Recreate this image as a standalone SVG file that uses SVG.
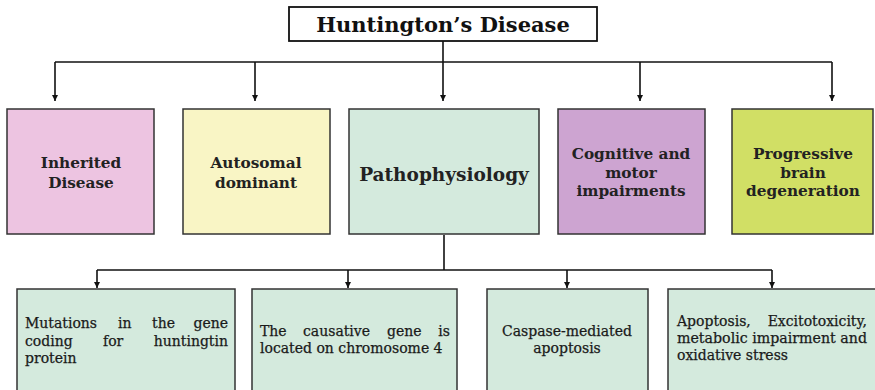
<svg xmlns="http://www.w3.org/2000/svg" width="875" height="390" viewBox="0 0 875 390">
  <style>
    .box { stroke: #333; stroke-width: 1.5; }
    .title { font-family: "DejaVu Serif", "Liberation Serif", serif; font-weight: bold; font-size: 21px; fill: #111; text-anchor: middle; }
    .head { font-family: "DejaVu Serif", "Liberation Serif", serif; font-weight: bold; font-size: 15.3px; fill: #222; text-anchor: middle; }
    .big { font-family: "DejaVu Serif", "Liberation Serif", serif; font-weight: bold; font-size: 18.5px; fill: #222; text-anchor: middle; }
    .body { font-family: "DejaVu Serif", "Liberation Serif", serif; font-size: 14px; fill: #1a1a1a; stroke: #1a1a1a; stroke-width: 0.25; }
    .mid { text-anchor: middle; }
    .end { text-anchor: end; }
    .wire { fill: none; stroke: #111; stroke-width: 1.6; }
  </style>
  <defs>
    <marker id="arrow" viewBox="0 0 10 10" refX="10" refY="5" markerWidth="6" markerHeight="6" markerUnits="userSpaceOnUse" orient="auto">
      <path d="M0,0 L10,5 L0,10 Z" fill="#111"/>
    </marker>
  </defs>

  <rect width="875" height="390" fill="#fff"/>

  <!-- connectors -->
  <g id="connectors">
    <line class="wire" x1="443" y1="41" x2="443" y2="62"/>
    <line class="wire" x1="55" y1="62" x2="832" y2="62"/>
    <line class="wire" x1="55" y1="62" x2="55" y2="101" marker-end="url(#arrow)"/>
    <line class="wire" x1="255" y1="62" x2="255" y2="101" marker-end="url(#arrow)"/>
    <line class="wire" x1="443" y1="62" x2="443" y2="101" marker-end="url(#arrow)"/>
    <line class="wire" x1="640" y1="62" x2="640" y2="101" marker-end="url(#arrow)"/>
    <line class="wire" x1="832" y1="62" x2="832" y2="101" marker-end="url(#arrow)"/>

    <line class="wire" x1="444" y1="235" x2="444" y2="270"/>
    <line class="wire" x1="97" y1="270" x2="772" y2="270"/>
    <line class="wire" x1="97" y1="270" x2="97" y2="288" marker-end="url(#arrow)"/>
    <line class="wire" x1="348" y1="270" x2="348" y2="288" marker-end="url(#arrow)"/>
    <line class="wire" x1="567" y1="270" x2="567" y2="288" marker-end="url(#arrow)"/>
    <line class="wire" x1="772" y1="270" x2="772" y2="288" marker-end="url(#arrow)"/>
  </g>

  <!-- root -->
  <g id="huntingtons-disease">
    <rect x="289" y="7" width="308" height="34" fill="#fff" stroke="#111" stroke-width="1.8"/>
    <text class="title" x="443" y="32">Huntington’s Disease</text>
  </g>

  <!-- first level -->
  <g id="inherited-disease">
    <rect class="box" x="7" y="109" width="147" height="125" fill="#EDC4E1"/>
    <text class="head" x="81" y="168">Inherited</text>
    <text class="head" x="81" y="188">Disease</text>
  </g>
  <g id="autosomal-dominant">
    <rect class="box" x="183" y="109" width="147" height="125" fill="#F9F5C5"/>
    <text class="head" x="256" y="168">Autosomal</text>
    <text class="head" x="256" y="188">dominant</text>
  </g>
  <g id="pathophysiology">
    <rect class="box" x="349" y="109" width="190" height="125" fill="#D4EADD"/>
    <text class="big" x="444" y="181">Pathophysiology</text>
  </g>
  <g id="cognitive-motor">
    <rect class="box" x="558" y="109" width="147" height="125" fill="#CDA4D1"/>
    <text class="head" x="631" y="159">Cognitive and</text>
    <text class="head" x="631" y="178">motor</text>
    <text class="head" x="631" y="196">impairments</text>
  </g>
  <g id="brain-degeneration">
    <rect class="box" x="732" y="109" width="141" height="125" fill="#D1DF65"/>
    <text class="head" x="803" y="159">Progressive</text>
    <text class="head" x="803" y="178">brain</text>
    <text class="head" x="803" y="196">degeneration</text>
  </g>

  <!-- pathophysiology details -->
  <g id="gene-mutation">
    <rect class="box" x="17" y="289" width="218" height="102" fill="#D4EADD"/>
    <text class="body" x="25" y="328">Mutations</text>
    <text class="body" x="118" y="328">in</text>
    <text class="body" x="152" y="328">the</text>
    <text class="body end" x="228" y="328">gene</text>
    <text class="body" x="25" y="346">coding</text>
    <text class="body" x="103" y="346">for</text>
    <text class="body end" x="228" y="346">huntingtin</text>
    <text class="body" x="25" y="363">protein</text>
  </g>
  <g id="chromosome-4">
    <rect class="box" x="252" y="289" width="205" height="102" fill="#D4EADD"/>
    <text class="body" x="260" y="336">The</text>
    <text class="body" x="303" y="336">causative</text>
    <text class="body" x="387" y="336">gene</text>
    <text class="body end" x="450" y="336">is</text>
    <text class="body" x="260" y="353">located on chromosome 4</text>
  </g>
  <g id="caspase-apoptosis">
    <rect class="box" x="487" y="289" width="161" height="102" fill="#D4EADD"/>
    <text class="body mid" x="567" y="336">Caspase-mediated</text>
    <text class="body mid" x="567" y="353">apoptosis</text>
  </g>
  <g id="cell-stress">
    <rect class="box" x="668" y="289" width="210" height="102" fill="#D4EADD"/>
    <text class="body" x="677" y="326">Apoptosis,</text>
    <text class="body end" x="867" y="326">Excitotoxicity,</text>
    <text class="body" x="677" y="343" textLength="190" lengthAdjust="spacingAndGlyphs">metabolic impairment and</text>
    <text class="body" x="677" y="360">oxidative stress</text>
  </g>
</svg>
